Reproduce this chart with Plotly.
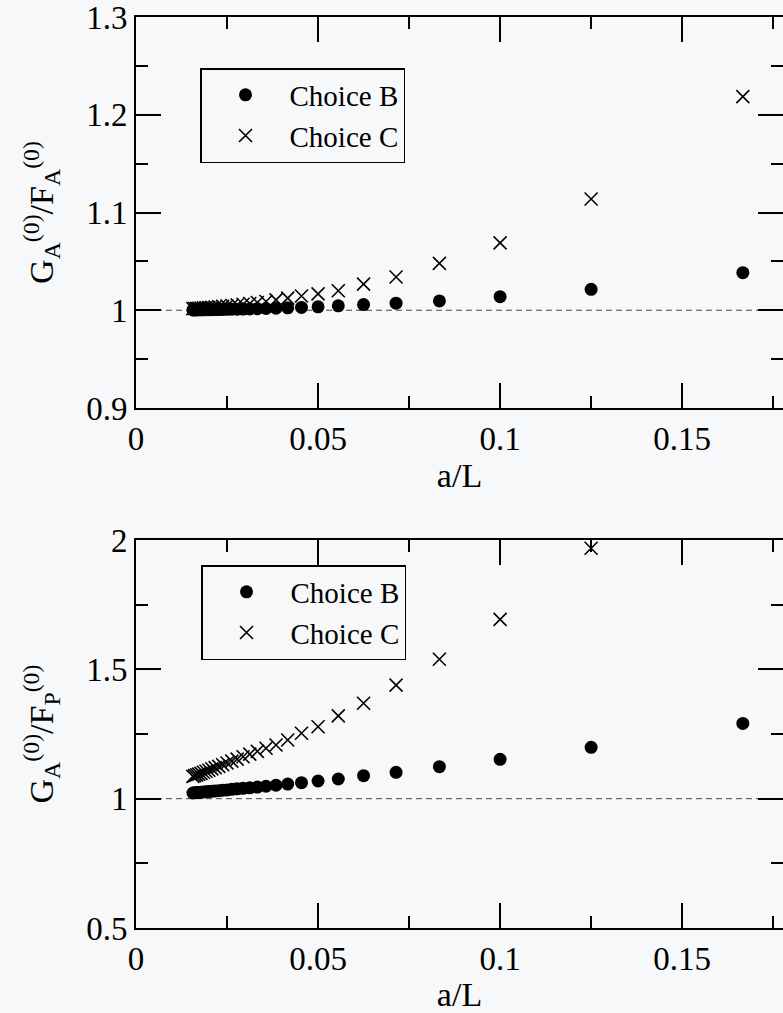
import plotly.graph_objects as go

# a/L values (L = 6, 8, ..., 64)
a_over_L = [0.16667, 0.125, 0.1, 0.08333, 0.07143, 0.0625, 0.05556, 0.05, 0.04545, 0.04167,
            0.03846, 0.03571, 0.03333, 0.03125, 0.02941, 0.02778, 0.02632, 0.025, 0.02381, 0.02273,
            0.02174, 0.02083, 0.02, 0.01923, 0.01852, 0.01786, 0.01724, 0.01667, 0.01613, 0.01563]

# Top panel: G_A^(0) / F_A^(0)
top_choice_B = [1.0384, 1.0214, 1.0139, 1.0095, 1.0072, 1.0058, 1.0045, 1.0035, 1.0029, 1.0025,
                1.0021, 1.0018, 1.0016, 1.0014, 1.0012, 1.0011, 1.0010, 1.0009, 1.0008, 1.0007,
                1.00065, 1.0006, 1.00055, 1.0005, 1.00045, 1.0004, 1.0004, 1.00035, 1.0003, 1.0003]
top_choice_C = [1.2185, 1.1138, 1.069, 1.048, 1.034, 1.0268, 1.020, 1.0168, 1.0146, 1.0124,
                1.0106, 1.0090, 1.0079, 1.0069, 1.0061, 1.0054, 1.0049, 1.0044, 1.0040, 1.0036,
                1.0033, 1.0030, 1.0028, 1.0026, 1.0024, 1.0022, 1.0021, 1.0019, 1.0018, 1.0017]

# Bottom panel: G_A^(0) / F_P^(0)
bot_choice_B = [1.291, 1.1985, 1.152, 1.1236, 1.1018, 1.0889, 1.0760, 1.0683, 1.0617, 1.0565,
                1.052, 1.048, 1.045, 1.042, 1.040, 1.038, 1.036, 1.034, 1.0325, 1.031,
                1.030, 1.029, 1.028, 1.027, 1.026, 1.025, 1.024, 1.0235, 1.023, 1.022]
bot_choice_C = [None, 1.968, 1.693, 1.539, 1.439, 1.369, 1.320, 1.278, 1.253, 1.227,
                1.2075, 1.195, 1.183, 1.172, 1.162, 1.153, 1.145, 1.138, 1.131, 1.125,
                1.120, 1.115, 1.110, 1.106, 1.102, 1.098, 1.095, 1.092, 1.089, 1.086]

ref_x = [0, 0.2]
ref_y = [1, 1]

top_ticks = [0.9, 1.0, 1.1, 1.2, 1.3]
top_ticktext = ["0.9", "1", "1.1", "1.2", "1.3"]
bot_ticks = [0.5, 1.0, 1.5, 2.0]
bot_ticktext = ["0.5", "1", "1.5", "2"]

series_names = ["Choice B", "Choice C"]
top_title = "G<sub>A</sub><sup>(0)</sup>/F<sub>A</sub><sup>(0)</sup>"
bot_title = "G<sub>A</sub><sup>(0)</sup>/F<sub>P</sub><sup>(0)</sup>"

FONT = "Liberation Serif, Times New Roman, serif"
BG = "#f7f8fa"

fig = go.Figure()

def add_panel(xa, ya, yB, yC, legend):
    fig.add_trace(go.Scatter(x=ref_x, y=ref_y, mode="lines", xaxis=xa, yaxis=ya,
                             line=dict(color="#444444", width=1, dash="6px,4px"),
                             showlegend=False, hoverinfo="skip"))
    fig.add_trace(go.Scatter(x=a_over_L, y=yB, mode="markers", name=series_names[0],
                             xaxis=xa, yaxis=ya, legend=legend,
                             marker=dict(symbol="circle", size=13, color="black")))
    fig.add_trace(go.Scatter(x=a_over_L, y=yC, mode="markers", name=series_names[1],
                             xaxis=xa, yaxis=ya, legend=legend,
                             marker=dict(symbol="x-thin", size=13, color="black",
                                         line=dict(color="black", width=1.6))))

add_panel("x", "y", top_choice_B, top_choice_C, "legend")
add_panel("x2", "y2", bot_choice_B, bot_choice_C, "legend2")

def xaxis(anchor):
    return dict(anchor=anchor, domain=[0, 1], range=[0, 0.1777],
                showline=True, linecolor="black", linewidth=2, mirror="allticks",
                ticks="inside", ticklen=25, tickwidth=2, tickcolor="black",
                tick0=0, dtick=0.05,
                minor=dict(ticks="inside", ticklen=12, tickwidth=2, tickcolor="black", dtick=0.025, showgrid=False),
                showgrid=False, zeroline=False, ticklabeloverflow="allow",
                tickfont=dict(family=FONT, size=33, color="black"),
                title=dict(text="a/L", font=dict(family=FONT, size=34, color="black"), standoff=2))

def yaxis(anchor, domain, rng, tickvals, ticktext, mdtick, title):
    return dict(anchor=anchor, domain=domain, range=rng,
                showline=True, linecolor="black", linewidth=2, mirror="allticks",
                ticks="inside", ticklen=25, tickwidth=2, tickcolor="black",
                tickmode="array", tickvals=tickvals, ticktext=ticktext,
                minor=dict(ticks="inside", ticklen=12, tickwidth=2, tickcolor="black",
                           tickmode="linear", tick0=rng[0], dtick=mdtick, showgrid=False),
                showgrid=False, zeroline=False, ticklabeloverflow="allow",
                tickfont=dict(family=FONT, size=33, color="black"),
                title=dict(text=title, font=dict(family=FONT, size=34, color="black"), standoff=22))

H = 1013
T, B = 17, 85
PH = H - T - B

legend_style = dict(xanchor="left", yanchor="top", bordercolor="black", borderwidth=1.5,
                    bgcolor="rgba(0,0,0,0)", itemwidth=78,
                    font=dict(family=FONT, size=29, color="black"))

fig.update_layout(
    width=783, height=H,
    margin=dict(l=136, r=0, t=T, b=B, autoexpand=False),
    paper_bgcolor=BG, plot_bgcolor=BG,
    xaxis=xaxis("y"),
    yaxis=yaxis("x", [(928 - 408) / PH, 1.0], [0.9, 1.30001], top_ticks, top_ticktext, 0.05, top_title),
    xaxis2=xaxis("y2"),
    yaxis2=yaxis("x2", [0.0, (928 - 540) / PH], [0.5, 2.0001], bot_ticks, bot_ticktext, 0.25, bot_title),
    legend=dict(x=(200 - 136) / 647, y=(928 - 68) / PH, **legend_style),
    legend2=dict(x=(201 - 136) / 647, y=(928 - 565) / PH, **legend_style),
)

fig.write_html("out.html")
